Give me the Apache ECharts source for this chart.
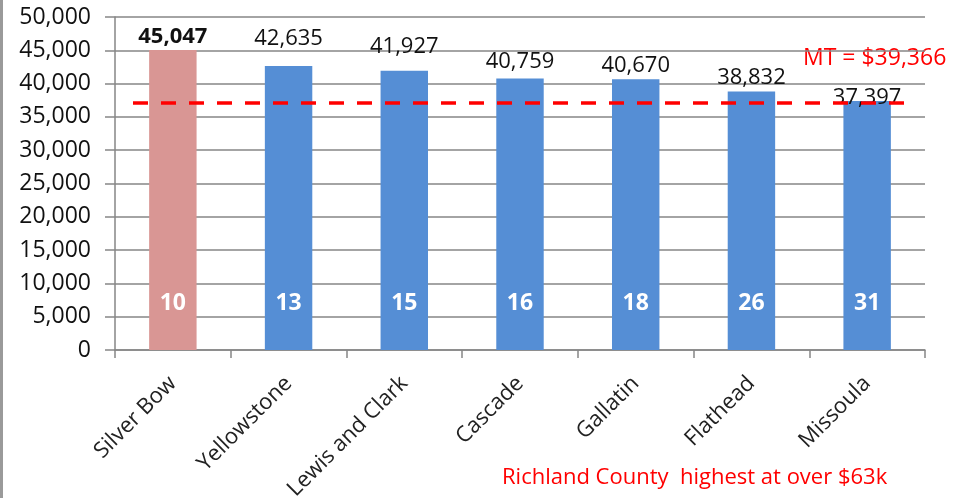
<!DOCTYPE html>
<html><head><meta charset="utf-8">
<script src="https://cdn.jsdelivr.net/npm/echarts@6/dist/echarts.min.js"></script>
<style>html,body{margin:0;padding:0;background:#fff}#c{width:953px;height:498px}</style>
</head><body><div id="c"></div>
<script>
const categories = ['Silver Bow','Yellowstone','Lewis and Clark','Cascade','Gallatin','Flathead','Missoula'];
const incomes = [45047, 42635, 41927, 40759, 40670, 38832, 37397];
const ranks = [10, 13, 15, 16, 18, 26, 31];
const mtLinePosition = 37100; // where the dashed line is drawn in the picture
const mtLabel = 'MT = $39,366';
const footNote = 'Richland County  highest at over $63k';
const yTicks = [0, 5000, 10000, 15000, 20000, 25000, 30000, 35000, 40000, 45000, 50000];

// style: per-bar gap of the value label above its bar, as in the original
const labelDistances = [2, 16, 13, 6, 2, 3, -8];

const font = '"Open Sans", "Liberation Sans", sans-serif';
const chart = echarts.init(document.getElementById('c'));
chart.setOption({
  animation: false,
  grid: {left: 115, right: 28, top: 17, bottom: 148, containLabel: false, outerBoundsMode: 'none'},
  xAxis: {
    type: 'category', data: categories,
    axisLine: {lineStyle: {color: '#868686', width: 1.5}},
    axisTick: {show: true, length: 8, alignWithLabel: false, lineStyle: {color: '#868686', width: 1.5}},
    axisLabel: {rotate: 45, fontFamily: font, fontSize: 22, color: '#222', margin: 30, interval: 0}
  },
  yAxis: {
    type: 'value', min: yTicks[0], max: yTicks[yTicks.length-1], interval: 5000,
    axisLine: {show: true, lineStyle: {color: '#868686', width: 1.5}},
    axisTick: {show: true, length: 10, lineStyle: {color: '#868686', width: 1.5}},
    splitLine: {lineStyle: {color: '#868686', width: 1.5}},
    axisLabel: {fontFamily: font, fontSize: 23, color: '#111', margin: 24,
      formatter: v => v.toLocaleString('en-US')}
  },
  series: [
    {
      type: 'bar', barWidth: '41%',
      data: incomes.map((v, i) => ({
        value: v,
        itemStyle: {color: i === 0 ? '#D99694' : '#558ED5'},
        label: Object.assign({distance: labelDistances[i]}, i === 0 ? {fontWeight: 'bold'} : {})
      })),
      label: {show: true, position: 'top', distance: 2, fontFamily: font, fontSize: 22, color: '#111',
        formatter: p => p.value.toLocaleString('en-US')},
      markLine: {
        silent: true, symbol: 'none',
        lineStyle: {color: '#FF0000', type: [15, 13], width: 3.5},
        label: {show: false},
        data: [[{xAxis: 0, yAxis: mtLinePosition, x: 133}, {xAxis: 6, yAxis: mtLinePosition, x: 912}]]
      }
    },
    {
      type: 'bar', barWidth: '41%', barGap: '-100%',
      data: incomes,
      itemStyle: {color: 'rgba(0,0,0,0)'},
      label: {show: true, position: 'insideBottom', distance: 35, fontFamily: font, fontSize: 23,
        fontWeight: 'bold', color: '#fff',
        formatter: p => String(ranks[p.dataIndex])}
    }
  ],
  graphic: [
    {type: 'rect', shape: {x: 0, y: 0, width: 3, height: 498}, style: {fill: '#9a9a9a'}},
    {type: 'text', left: 803, top: 47, style: {text: mtLabel, fill: '#FF0000', font: '23px ' + font}},
    {type: 'text', left: 502, top: 467, style: {text: footNote, fill: '#FF0000', font: '22px ' + font}}
  ]
});
</script></body></html>
